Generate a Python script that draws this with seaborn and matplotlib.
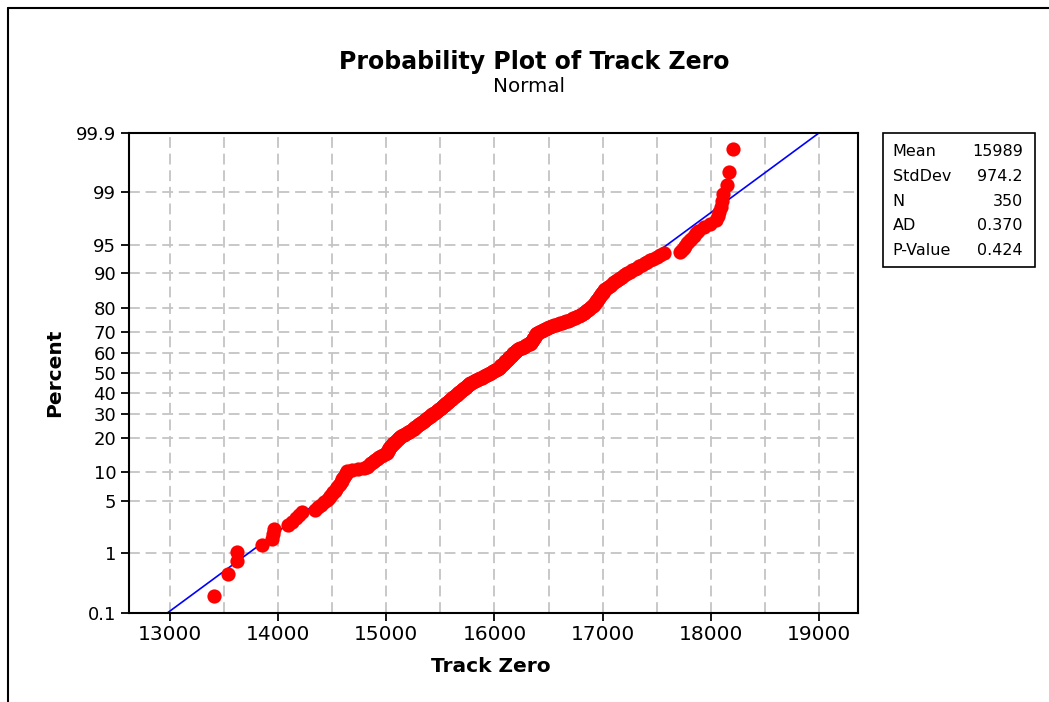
import matplotlib
matplotlib.use("Agg")
import matplotlib.pyplot as plt
import seaborn as sns
import pandas as pd
from statistics import NormalDist
from matplotlib.lines import Line2D
from matplotlib.patches import Rectangle

# ---- data (sorted Track Zero values) ----
track_zero = [
    13407, 13540, 13617, 13622, 13848, 13945, 13955, 13962, 14094, 14130, 14166, 14193, 14221,
    14340, 14365, 14392, 14420, 14450,
    14466, 14481, 14496, 14511, 14526,
    14537, 14548, 14558, 14568, 14578, 14588, 14594,
    14601, 14609, 14617, 14624, 14630, 14636,
    14680, 14735, 14790, 14820,
    14834, 14848, 14862, 14876, 14886,
    14898, 14910, 14922, 14934, 14947,
    14966, 14985, 15005,
    15009, 15013, 15017, 15021, 15025, 15029, 15034,
    15042, 15050, 15058, 15066, 15074, 15082, 15090, 15098, 15106, 15114, 15121, 15127,
    15139, 15151, 15163, 15175, 15187, 15199, 15211, 15223, 15235,
    15243, 15252, 15260, 15269, 15277, 15286, 15294, 15303, 15311, 15320, 15328, 15337, 15345, 15353, 15361,
    15369, 15377, 15385, 15393, 15401, 15409, 15417, 15425, 15433, 15441, 15449, 15457, 15465, 15473, 15481,
    15488, 15494, 15501, 15507, 15514, 15520, 15527, 15533, 15540, 15546, 15553, 15559, 15566, 15572, 15579, 15585, 15592,
    15598, 15605, 15611, 15618, 15624, 15631, 15637, 15644, 15650, 15657, 15663, 15670, 15676, 15683,
    15689, 15695, 15701, 15708, 15714, 15720, 15726, 15732, 15738, 15744, 15751, 15757, 15763, 15769, 15776,
    15786, 15797, 15807, 15818, 15828, 15839, 15849, 15860, 15870, 15881, 15891, 15902, 15912, 15923, 15933,
    15942, 15951, 15959, 15968, 15977, 15986, 15995, 16003, 16012, 16021, 16030, 16039,
    16044, 16049, 16054, 16059, 16064, 16069, 16075, 16080, 16085, 16090, 16095, 16100, 16106, 16111, 16116, 16121, 16126, 16132,
    16137, 16143, 16148, 16153, 16159, 16164, 16169, 16175, 16180, 16185, 16191, 16196, 16201, 16207,
    16218, 16229, 16239, 16250, 16261, 16271, 16282, 16293, 16303, 16314, 16325, 16335,
    16339, 16342, 16346, 16349, 16353, 16356, 16360, 16363, 16367, 16370, 16374, 16378, 16381, 16385, 16388, 16392,
    16404, 16416, 16429, 16441, 16453, 16466, 16478, 16490, 16503, 16515,
    16534, 16552, 16571, 16589, 16608, 16626, 16645, 16663, 16682, 16700,
    16714, 16727, 16741, 16755, 16768, 16782, 16796, 16809, 16823,
    16831, 16840, 16848, 16857, 16865, 16874, 16882, 16891, 16899, 16908, 16917,
    16923, 16928, 16934, 16940, 16945, 16951,
    16957, 16963, 16969, 16975, 16981, 16987, 16993, 16999, 17005, 17011, 17017, 17023,
    17037, 17050, 17064, 17078, 17091, 17105, 17119, 17132,
    17148, 17164, 17180, 17196, 17212, 17228,
    17250, 17272, 17295, 17317,
    17340, 17364, 17387, 17410,
    17440, 17470, 17500, 17530, 17563,
    17711, 17730, 17750, 17765, 17780, 17800, 17820, 17840, 17860, 17880, 17935,
    17995, 18050, 18065, 18080, 18095, 18105, 18115, 18150, 18171, 18202,
]

stat_names = ["Mean", "StdDev", "N", "AD", "P-Value"]
stat_values = ["15989", "974.2", "350", "0.370", "0.424"]
fit_mean = 15989
fit_sd = 974.2

percent_ticks = [0.1, 1, 5, 10, 20, 30, 40, 50, 60, 70, 80, 90, 95, 99, 99.9]
percent_labels = ["0.1", "1", "5", "10", "20", "30", "40", "50", "60", "70", "80", "90", "95", "99", "99.9"]
x_ticks = [13000, 14000, 15000, 16000, 17000, 18000, 19000]
x_tick_labels = ["13000", "14000", "15000", "16000", "17000", "18000", "19000"]

# ---- probability-plot positions (median ranks) ----
nd = NormalDist()
n = len(track_zero)
z_pos = [nd.inv_cdf((i + 1 - 0.3) / (n + 0.4)) for i in range(n)]
df = pd.DataFrame({"Track Zero": track_zero, "z": z_pos})

sns.set_style("ticks")
plt.rcParams["font.family"] = ["DejaVu Sans"]
plt.rcParams["text.color"] = "black"
plt.rcParams["axes.labelcolor"] = "black"
plt.rcParams["xtick.color"] = "black"
plt.rcParams["ytick.color"] = "black"
plt.rcParams["xtick.labelcolor"] = "black"
plt.rcParams["ytick.labelcolor"] = "black"

W, H = 1049, 702
fig = plt.figure(figsize=(W / 100, H / 100), dpi=100)
ax_l, ax_r, ax_t, ax_b = 128.7, 857.7, 133.0, 612.7
ax = fig.add_axes([ax_l / W, (H - ax_b) / H, (ax_r - ax_l) / W, (ax_b - ax_t) / H])

z_lo = nd.inv_cdf(0.001)
z_hi = nd.inv_cdf(0.999)

# grid
grid_kw = dict(color="#c4c4c4", linewidth=1.3, dashes=(6, 3.2), zorder=0)
for xv in range(13000, 19001, 500):
    ax.axvline(xv, **grid_kw)
for p in percent_ticks[1:-1]:
    ax.axhline(nd.inv_cdf(p / 100), **grid_kw)

# fitted line
ax.plot([fit_mean + fit_sd * z_lo, fit_mean + fit_sd * z_hi], [z_lo, z_hi],
        color="#0000ff", linewidth=1.2, zorder=2)

sns.scatterplot(data=df, x="Track Zero", y="z", ax=ax, color="#ff0000",
                s=105, linewidth=0, zorder=3, legend=False)

ax.set_xlim(12618, 19358)
ax.set_ylim(z_lo, z_hi)
ax.set_xticks(x_ticks)
ax.set_xticklabels(x_tick_labels, fontsize=14.5)
ax.set_yticks([nd.inv_cdf(p / 100) for p in percent_ticks])
ax.set_yticklabels(percent_labels, fontsize=13)
ax.tick_params(axis="both", direction="out", length=6, width=1.3, color="black",
               labelcolor="black", pad=3)
for sp in ax.spines.values():
    sp.set_visible(True)
    sp.set_linewidth(1.5)
    sp.set_color("black")

ax.set_xlabel("Track Zero", fontsize=14.5, fontweight="bold", color="black")
ax.set_ylabel("Percent", fontsize=14.5, fontweight="bold", color="black")
ax.xaxis.set_label_coords((491 - ax_l) / (ax_r - ax_l), (ax_b - 667) / (ax_b - ax_t))
ax.xaxis.label.set_va("center")
ax.yaxis.set_label_coords((55 - ax_l) / (ax_r - ax_l), 0.5)
ax.yaxis.label.set_va("center")

# titles
fig.text(534 / W, 1 - 68.5 / H, "Probability Plot of Track Zero", ha="center",
         va="baseline", fontsize=17, fontweight="bold", color="black")
fig.text(529 / W, 1 - 91.7 / H, "Normal", ha="center", va="baseline", fontsize=14.3,
         color="black")

# stats box
fig.add_artist(Rectangle((883 / W, 1 - 267 / H), (1035 - 883) / W, (267 - 133) / H,
                         transform=fig.transFigure, fill=False, edgecolor="black", linewidth=1.2))
baselines = [156, 181, 206, 230.5, 255]
for name, val, yb in zip(stat_names, stat_values, baselines):
    fig.text(892.7 / W, 1 - yb / H, name, ha="left", va="baseline", fontsize=11.5, color="black")
    fig.text(1022.7 / W, 1 - yb / H, val, ha="right", va="baseline", fontsize=11.5, color="black")

# outer border (top and left)
fig.add_artist(Line2D([8 / W, 1.0], [1 - 8 / H, 1 - 8 / H], transform=fig.transFigure,
                      color="black", linewidth=1.5))
fig.add_artist(Line2D([8 / W, 8 / W], [1 - 8 / H, 0.0], transform=fig.transFigure,
                      color="black", linewidth=1.5))

fig.savefig("out.png", dpi=100, facecolor="white")
